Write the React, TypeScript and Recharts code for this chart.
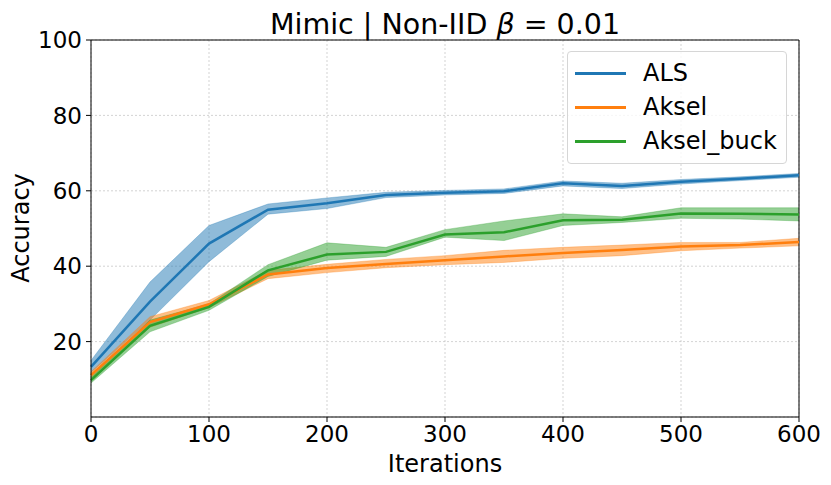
import React from 'react';
import {
  ComposedChart,
  Area,
  Line,
  XAxis,
  YAxis,
  CartesianGrid,
  ReferenceLine,
} from 'recharts';

const iterations = [0, 50, 100, 150, 200, 250, 300, 350, 400, 450, 500, 550, 600];

const alsMean = [13.3, 30.6, 46.0, 55.0, 56.7, 58.9, 59.5, 59.9, 62.0, 61.3, 62.4, 63.2, 64.1];
const alsLow = [11.8, 25.7, 41.2, 53.8, 55.3, 58.2, 58.9, 59.3, 61.3, 60.6, 61.8, 62.7, 63.6];
const alsHigh = [15.0, 35.8, 50.8, 56.5, 58.1, 59.6, 60.1, 60.5, 62.6, 62.0, 63.0, 63.7, 64.6];

const akselMean = [11.1, 25.2, 29.9, 37.8, 39.5, 40.6, 41.6, 42.6, 43.5, 44.3, 45.2, 45.6, 46.4];
const akselLow = [10.2, 23.8, 29.0, 36.7, 38.3, 39.6, 40.4, 41.0, 42.1, 42.8, 44.1, 44.8, 45.4];
const akselHigh = [12.0, 26.6, 30.9, 38.9, 40.5, 41.8, 42.8, 44.2, 45.0, 45.6, 46.3, 46.3, 47.4];

const buckMean = [9.8, 24.2, 29.2, 38.9, 43.1, 43.8, 48.4, 49.0, 52.2, 52.3, 54.0, 53.9, 53.7];
const buckLow = [9.0, 22.6, 28.3, 37.3, 41.6, 42.6, 47.7, 46.8, 50.8, 51.6, 52.7, 52.5, 52.0];
const buckHigh = [10.6, 25.7, 30.0, 40.4, 46.2, 45.0, 49.7, 52.0, 53.9, 53.1, 55.5, 55.5, 55.5];

const xTicks = [0, 100, 200, 300, 400, 500, 600];
const yTicks = [20, 40, 60, 80, 100];

const SERIES = [
  { key: 'als', name: 'ALS', color: '#1f77b4' },
  { key: 'aksel', name: 'Aksel', color: '#ff7f0e' },
  { key: 'buck', name: 'Aksel_buck', color: '#2ca02c' },
];

const FONT = '"DejaVu Sans", sans-serif';

// one row per iteration, bands as [low, high] pairs
const data = iterations.map((it, i) => ({
  it,
  als: alsMean[i],
  alsBand: [alsLow[i], alsHigh[i]],
  aksel: akselMean[i],
  akselBand: [akselLow[i], akselHigh[i]],
  buck: buckMean[i],
  buckBand: [buckLow[i], buckHigh[i]],
}));

const LegendBox = () => (
  <div
    style={{
      position: 'absolute',
      top: 51,
      left: 567,
      width: 220,
      height: 113,
      border: '1px solid #d6d6d6',
      borderRadius: 4,
      background: 'rgba(255,255,255,0.8)',
      boxSizing: 'border-box',
      paddingTop: 4,
      fontFamily: FONT,
      fontSize: 24,
      color: '#000',
    }}
  >
    {SERIES.map((s) => (
      <div key={s.key} style={{ display: 'flex', alignItems: 'center', height: 34 }}>
        <div style={{ width: 51, height: 3, background: s.color, marginLeft: 7, marginRight: 17 }} />
        <span>{s.name}</span>
      </div>
    ))}
  </div>
);

export default function App() {
  return (
    <div style={{ position: 'fixed', top: 0, left: 0, width: 831, height: 485, background: '#fff' }}>
      <ComposedChart
        width={831}
        height={485}
        data={data}
        margin={{ top: 40, right: 32, bottom: 28, left: 8 }}
      >
        <text x={445} y={34} textAnchor="middle" fontFamily={FONT} fontSize={28.5} fill="#000">
          Mimic | Non-IID <tspan fontStyle="italic">β</tspan> = 0.01
        </text>
        <text x={445} y={472} textAnchor="middle" fontFamily={FONT} fontSize={24} fill="#000">
          Iterations
        </text>
        <text
          x={29}
          y={228}
          transform="rotate(-90 29 228)"
          textAnchor="middle"
          fontFamily={FONT}
          fontSize={24}
          fill="#000"
        >
          Accuracy
        </text>
        <CartesianGrid stroke="#c8c8c8" strokeDasharray="2 2" strokeWidth={0.8} />
        <XAxis
          dataKey="it"
          type="number"
          domain={[0, 600]}
          ticks={xTicks}
          height={40}
          tick={{ fontFamily: FONT, fontSize: 23, fill: '#000' }}
          tickSize={5}
          tickMargin={4}
          stroke="#000"
        />
        <YAxis
          type="number"
          domain={[0, 100]}
          ticks={yTicks}
          width={83}
          tick={{ fontFamily: FONT, fontSize: 23, fill: '#000' }}
          tickSize={5}
          tickMargin={4}
          stroke="#000"
        />
        <ReferenceLine y={100} stroke="#000" strokeWidth={1} />
        <ReferenceLine x={600} stroke="#000" strokeWidth={1} />
        {SERIES.map((s) => (
          <Area
            key={s.key + 'Band'}
            dataKey={s.key + 'Band'}
            type="linear"
            stroke={s.color}
            strokeOpacity={0.3}
            fill={s.color}
            fillOpacity={0.5}
            isAnimationActive={false}
            legendType="none"
          />
        ))}
        {SERIES.map((s) => (
          <Line
            key={s.key}
            dataKey={s.key}
            name={s.name}
            type="linear"
            stroke={s.color}
            strokeWidth={2.5}
            dot={false}
            isAnimationActive={false}
          />
        ))}
      </ComposedChart>
      <LegendBox />
    </div>
  );
}
